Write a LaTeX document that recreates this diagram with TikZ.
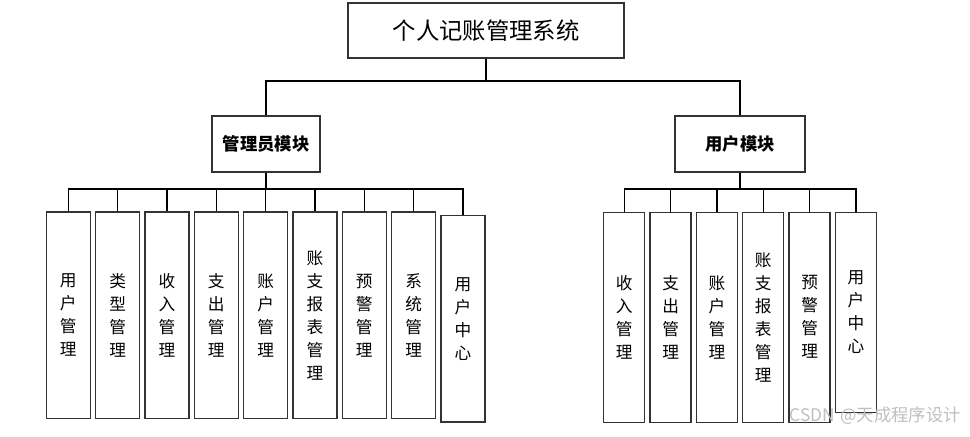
\documentclass[tikz,border=0pt]{standalone}
\usepackage{fontspec}
\setmainfont{Noto Sans CJK SC}
\usetikzlibrary{positioning}

\begin{document}
\begin{tikzpicture}[
  x=0.75pt,y=-0.75pt,
  line width=1pt,
  topbox/.style={draw=black!80,fill=white,minimum width=207pt,minimum height=41.25pt,font=\fontsize{17.5}{20}\selectfont},
  modbox/.style={draw=black!80,fill=white,minimum height=42pt,font=\fontsize{13}{15}\selectfont\bfseries},
  leafA/.style={draw=black!80,fill=white,minimum width=33pt,minimum height=155pt,align=center,inner sep=0pt,font=\fontsize{12.5}{17.25}\selectfont},
  leafB/.style={leafA,minimum width=30.75pt,minimum height=157.5pt},
  wire/.style={black,line width=1.1pt}
]
\useasboundingbox (0,0) rectangle (970,436);

% top level
\node[topbox] (sys) at (486,30.5) {个人记账管理系统};
\node[modbox,minimum width=81pt] (admin) at (266,144) {管理员模块};
\node[modbox,minimum width=97.5pt] (user) at (740,144) {用户模块};

% admin module
\node[leafA] (A1) at (68.3,315.4) {用\\户\\管\\理};
\node[leafA,right=3pt of A1] (A2) {类\\型\\管\\理};
\node[leafA,right=3pt of A2] (A3) {收\\入\\管\\理};
\node[leafA,right=3pt of A3] (A4) {支\\出\\管\\理};
\node[leafA,right=3pt of A4] (A5) {账\\户\\管\\理};
\node[leafA,right=3pt of A5] (A6) {账\\支\\报\\表\\管\\理};
\node[leafA,right=3pt of A6] (A7) {预\\警\\管\\理};
\node[leafA,right=3pt of A7] (A8) {系\\统\\管\\理};
\node[leafA,right=3pt of A8,yshift=-2.5pt] (A9) {用\\户\\中\\心};

% user module
\node[leafB] (U1) at (624.3,317.2) {收\\入\\管\\理};
\node[leafB,right=3pt of U1] (U2) {支\\出\\管\\理};
\node[leafB,right=3pt of U2] (U3) {账\\户\\管\\理};
\node[leafB,right=3pt of U3] (U4) {账\\支\\报\\表\\管\\理};
\node[leafB,right=3pt of U4] (U5) {预\\警\\管\\理};
\node[leafB,right=3pt of U5,minimum height=150pt,yshift=3.75pt] (U6) {用\\户\\中\\心};

% connectors
\coordinate (bus) at (486,81);
\coordinate (abus) at (266,189);
\coordinate (ubus) at (740,189);
\draw[wire] (sys) -- (bus) -| (admin);
\draw[wire] (bus) -| (user);
\draw[wire] (admin) -- (abus);
\draw[wire] (user) -- (ubus);
\foreach \i in {1,...,9} \draw[wire] (abus) -| (A\i);
\foreach \i in {1,...,6} \draw[wire] (ubus) -| (U\i);

\node[text=black!25,font=\fontsize{13}{15}\selectfont,anchor=east] (mark) at (966,416) {CSDN\hspace{4pt}@天成程序设计};
\end{tikzpicture}
\end{document}
